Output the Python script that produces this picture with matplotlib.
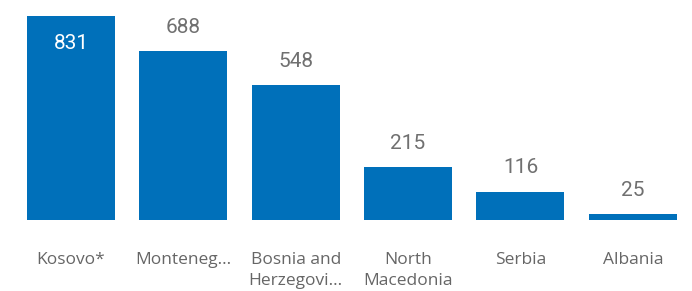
import matplotlib
matplotlib.use("Agg")
import matplotlib.pyplot as plt

# values
countries = ["Kosovo*", "Monteneg...", "Bosnia and\nHerzegovi...", "North\nMacedonia", "Serbia", "Albania"]
values = [831, 688, 548, 215, 116, 25]

bar_color = "#0070BA"
num_color = "#707070"
tick_color = "#666666"

fig = plt.figure(figsize=(6.92, 2.91), dpi=100)
ax = fig.add_axes([0.0214, 0.244, 0.9743, 0.701])

x = list(range(len(values)))
ax.bar(x, values, width=0.783, color=bar_color)
ax.set_xlim(-0.5, len(values) - 0.5)
ax.set_ylim(0, max(values))

for xi, v in zip(x, values):
    if v == max(values):
        ax.annotate(str(v), (xi, v), xytext=(0, -20), textcoords="offset points",
                    ha="center", va="center", color="white",
                    fontsize=15, family="Roboto")
    else:
        ax.annotate(str(v), (xi, v), xytext=(0, 17), textcoords="offset points",
                    ha="center", va="center", color=num_color,
                    fontsize=15, family="Roboto")

ax.set_xticks(x)
ax.set_xticklabels(countries, fontsize=12.5, color=tick_color, family="Open Sans",
                   linespacing=1.45)
ax.tick_params(axis="x", length=0, pad=23)
ax.set_yticks([])
for s in ax.spines.values():
    s.set_visible(False)

fig.savefig("out.png", dpi=100)
